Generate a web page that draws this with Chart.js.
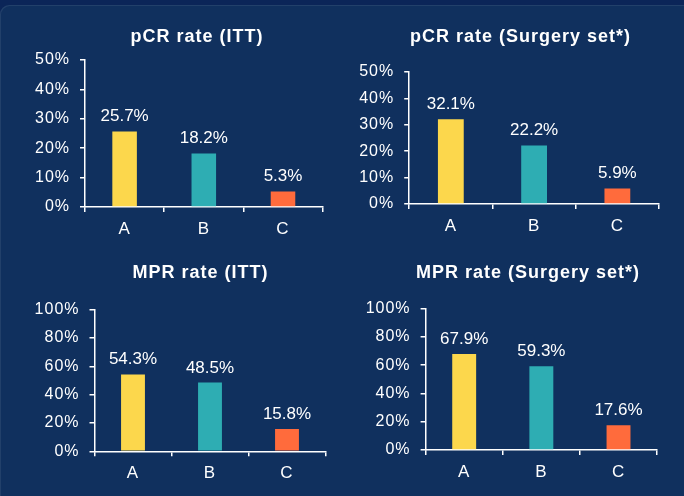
<!DOCTYPE html>
<html lang="en">
<head>
  <meta charset="UTF-8">
  <title>pCR and MPR rates</title>
  <script src="https://cdn.jsdelivr.net/npm/chart.js"></script>
  <style>
    body {
      margin: 0;
      width: 684px;
      height: 496px;
      overflow: hidden;
      background: #0b2558;
      position: relative;
      font-family: "Liberation Sans", Arial, sans-serif;
    }
    .panel {
      position: absolute;
      left: 0;
      top: 5px;
      width: 684px;
      height: 491px;
      background: #10305e;
      border-top-left-radius: 9px;
      box-shadow: inset 1px 1px 0 rgba(255,255,255,0.08);
    }
    canvas {
      position: absolute;
    }
  </style>
</head>
<body>
  <div class="panel"></div>
  <canvas id="c1" width="394" height="248" style="left:0;top:0"></canvas>
  <canvas id="c2" width="357" height="248" style="left:342px;top:0"></canvas>
  <canvas id="c3" width="401" height="248" style="left:0;top:248px"></canvas>
  <canvas id="c4" width="372" height="248" style="left:342px;top:248px"></canvas>

  <script>
    // data
    const categories = ['A', 'B', 'C'];
    const pcrItt = [25.7, 18.2, 5.3];
    const pcrSurgery = [32.1, 22.2, 5.9];
    const mprItt = [54.3, 48.5, 15.8];
    const mprSurgery = [67.9, 59.3, 17.6];
    const pcrAxis = [0, 50, 10];   // min, max, step
    const mprAxis = [0, 100, 20];

    const barColors = ['#fcd74c', '#2eadb3', '#ff6b3c'];
    const FONT = '"Liberation Sans", Arial, sans-serif';
    const WHITE = '#ffffff';

    // the original text is drawn a bit loose
    const spacing = {
      id: 'spacing',
      beforeDraw(chart) { chart.ctx.letterSpacing = '1px'; },
      afterDraw(chart) { chart.ctx.letterSpacing = '0px'; }
    };

    const valueLabels = {
      id: 'valueLabels',
      afterDatasetsDraw(chart) {
        const ctx = chart.ctx;
        const ds = chart.data.datasets[0];
        ctx.save();
        ctx.letterSpacing = '0px';
        ctx.font = '17px ' + FONT;
        ctx.fillStyle = WHITE;
        ctx.textAlign = 'center';
        ctx.textBaseline = 'alphabetic';
        chart.getDatasetMeta(0).data.forEach((bar, i) => {
          ctx.fillText(ds.data[i].toFixed(1) + '%', bar.x, bar.y - 10);
        });
        ctx.restore();
      }
    };

    // box.yw = left axis width, box.rw = empty right strip that centres the title
    function makeChart(id, title, values, axis, box) {
      return new Chart(document.getElementById(id), {
        type: 'bar',
        data: {
          labels: categories,
          datasets: [{
            data: values,
            backgroundColor: barColors,
            borderWidth: 0,
            barPercentage: 0.31,
            categoryPercentage: 1
          }]
        },
        plugins: [spacing, valueLabels],
        options: {
          responsive: false,
          animation: false,
          events: [],
          layout: { padding: 0 },
          plugins: {
            legend: { display: false },
            tooltip: { enabled: false },
            title: {
              display: true,
              text: title,
              color: WHITE,
              font: { family: FONT, size: 18, weight: 'bold' },
              padding: { top: box.tTop, bottom: box.tBottom }
            }
          },
          scales: {
            x: {
              grid: { drawOnChartArea: false, offset: true, color: WHITE, tickLength: 5, lineWidth: 1.5 },
              border: { color: WHITE, width: 1.5 },
              ticks: { color: WHITE, font: { family: FONT, size: 17 }, padding: 7 },
              afterFit(s) { s.height = box.xh; }
            },
            y: {
              min: axis[0],
              max: axis[1],
              grid: { drawOnChartArea: false, color: WHITE, tickLength: 5, lineWidth: 1.5 },
              border: { color: WHITE, width: 1.5 },
              ticks: {
                stepSize: axis[2],
                color: WHITE,
                font: { family: FONT, size: 16 },
                padding: 10,
                callback: v => v + '%'
              },
              afterFit(s) { s.width = box.yw; }
            },
            spacer: {
              type: 'linear',
              position: 'right',
              grid: { display: false },
              border: { display: false },
              ticks: { display: false },
              afterFit(s) { s.width = box.rw; }
            }
          }
        }
      });
    }

    makeChart('c1', 'pCR rate (ITT)', pcrItt, pcrAxis,
      { yw: 85, rw: 71.4, tTop: 26.4, tBottom: 12, xh: 41 });
    makeChart('c2', 'pCR rate (Surgery set*)', pcrSurgery, pcrAxis,
      { yw: 67.2, rw: 40, tTop: 26, tBottom: 24.4, xh: 44 });
    makeChart('c3', 'MPR rate (ITT)', mprItt, mprAxis,
      { yw: 94.5, rw: 75.5, tTop: 14.7, tBottom: 25.4, xh: 44.7 });
    makeChart('c4', 'MPR rate (Surgery set*)', mprSurgery, mprAxis,
      { yw: 83.6, rw: 56.9, tTop: 14.7, tBottom: 24.4, xh: 46 });
  </script>
</body>
</html>
